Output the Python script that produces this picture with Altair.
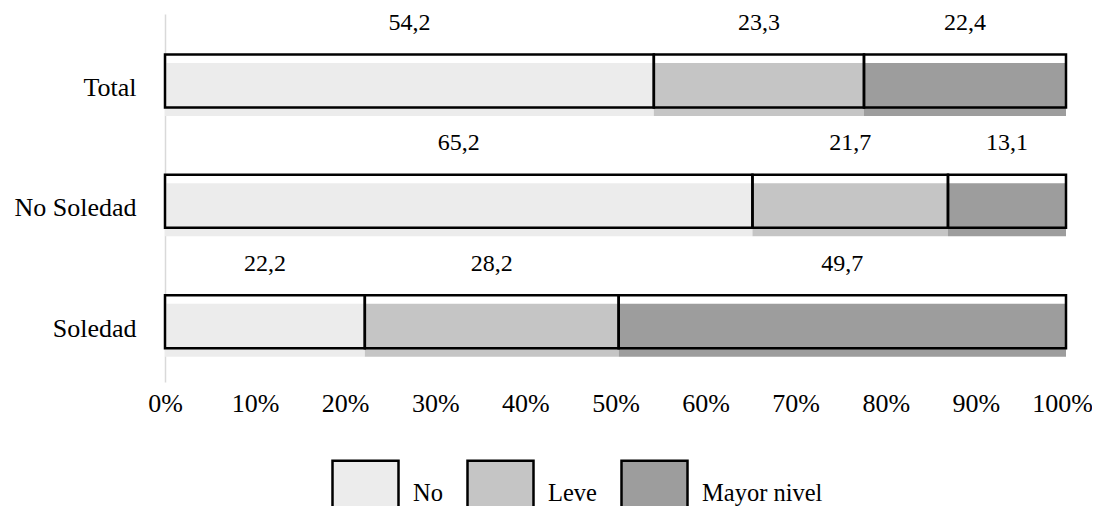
import altair as alt
import pandas as pd

categories = ["Total", "No Soledad", "Soledad"]
levels = ["No", "Leve", "Mayor nivel"]
no_vals = [54.2, 65.2, 22.2]
leve_vals = [23.3, 21.7, 28.2]
mayor_vals = [22.4, 13.1, 49.7]
colors = ["#ececec", "#c5c5c5", "#9d9d9d"]
tick_values = [0, 0.1, 0.2, 0.3, 0.4, 0.5, 0.6, 0.7, 0.8, 0.9, 1.0]

rows = []
for i, cat in enumerate(categories):
    for k, (lev, vals) in enumerate(zip(levels, [no_vals, leve_vals, mayor_vals])):
        v = vals[i]
        rows.append({"cat": cat, "level": lev, "k": k, "value": v,
                     "label": f"{v:.1f}".replace(".", ",")})
df = pd.DataFrame(rows)

FONT = "Liberation Serif"

base = alt.Chart(df).transform_stack(
    stack="value", groupby=["cat"], as_=["x0", "x1"], offset="normalize",
    sort=[alt.SortField("k", order="ascending")]
)

y_axis = alt.Axis(title=None, ticks=False, domainColor="#d9d9d9",
                  domainWidth=1.5, labelFont=FONT, labelFontSize=26,
                  labelColor="black", labelPadding=29, labelOffset=7)
x_axis = alt.Axis(title=None, format=".0%", values=tick_values,
                  domain=False, ticks=False, grid=False, labelFlush=False,
                  labelFont=FONT, labelFontSize=26, labelColor="black",
                  labelPadding=8,
                  labelOffset={"condition": {"test": "datum.value >= 1", "value": -4},
                               "value": 0})
y_scale = alt.Scale(paddingInner=0, paddingOuter=0.028, align=1)
x_scale = alt.Scale(domain=[0, 1], nice=False)


def y_enc():
    return alt.Y("cat:N", sort=categories, scale=y_scale, axis=y_axis)


fills = base.mark_bar(size=53, yOffset=8.5).encode(
    x=alt.X("x0:Q", scale=x_scale, axis=x_axis), x2="x1:Q", y=y_enc(),
    color=alt.Color("level:N", scale=alt.Scale(domain=levels, range=colors),
                    legend=alt.Legend(title=None, orient="none", direction="horizontal",
                                      legendX=166, legendY=445, padding=0,
                                      symbolType="M-1,1L-1,-1L1,-1L1,1",
                                      symbolSize=4356, symbolStrokeColor="black",
                                      symbolStrokeWidth=2.5,
                                      labelFont=FONT, labelFontSize=24.5,
                                      labelColor="black",
                                      labelOffset=13, columnPadding=19)),
)

outlines = base.mark_bar(size=53, fill="transparent", stroke="black", strokeWidth=2.5).encode(
    x=alt.X("x0:Q", scale=x_scale, axis=x_axis), x2="x1:Q", y=y_enc()
)

texts = base.transform_calculate(mid="(datum.x0 + datum.x1) / 2").mark_text(
    dy=-51, font=FONT, fontSize=24, color="black", baseline="alphabetic"
).encode(
    x=alt.X("mid:Q", scale=x_scale, axis=x_axis), y=y_enc(),
    text="label:N"
)

chart = alt.layer(fills, outlines, texts).properties(
    width=901, height=368,
    autosize=alt.AutoSizeParams(type="none"),
    padding={"left": 157, "top": 6, "right": 26, "bottom": 124},
    background="white",
).configure_view(stroke=None)

chart.save("out.html", embed_options={"renderer": "svg", "actions": False})
